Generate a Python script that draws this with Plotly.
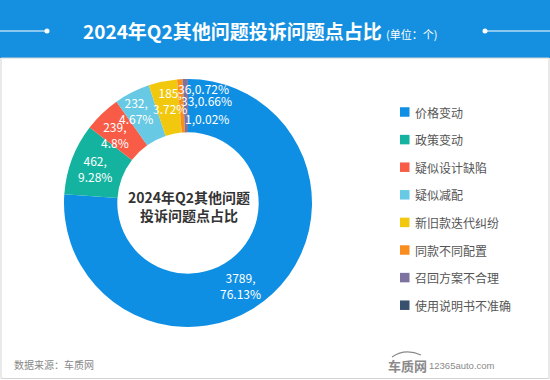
import math
import plotly.graph_objects as go

# ---- data ----
categories = ["价格变动", "政策变动", "疑似设计缺陷", "疑似减配",
              "新旧款迭代纠纷", "同款不同配置", "召回方案不合理", "使用说明书不准确"]
values = [3789, 462, 239, 232, 185, 36, 33, 1]
pct_labels = ["76.13%", "9.28%", "4.8%", "4.67%", "3.72%", "0.72%", "0.66%", "0.02%"]
colors = ["#0f8fe3", "#14b3a0", "#f85c47", "#67c9e3",
          "#f2c80f", "#fa8d1f", "#7d72a0", "#36506e"]

title_text = "2024年Q2其他问题投诉问题点占比"
unit_text = "(单位：个)"
center_text = ["2024年Q2其他问题", "投诉问题点占比"]
source_text = "数据来源：车质网"

W, H = 550, 380
FONT = "Noto Sans CJK SC"


def px(x):
    return x / W


def py(y):
    return 1 - y / H


# donut geometry (pixels)
CX, CY, R = 188, 203, 124
HOLE = 0.57

fig = go.Figure()
fig.add_trace(go.Pie(
    labels=categories, values=values, textinfo="none",
    sort=False, direction="clockwise", rotation=0, hole=HOLE,
    marker=dict(colors=colors, line=dict(width=0)),
    domain=dict(x=[px(CX - R), px(CX + R)], y=[py(CY + R), py(CY - R)]),
    showlegend=False, hoverinfo="label+value+percent",
))

shapes = []
annotations = []

# header band
shapes.append(dict(type="rect", xref="paper", yref="paper", x0=0, x1=1,
                   y0=py(58), y1=1, fillcolor="#1590e0", line=dict(width=0), layer="below"))
# frame
shapes.append(dict(type="rect", xref="paper", yref="paper", x0=px(1), x1=px(549),
                   y0=py(378.5), y1=py(58), line=dict(color="#d4d4d4", width=1)))
# header decorative lines
for x0, x1, xd in [(0, 47, 47), (485, 550, 485)]:
    shapes.append(dict(type="line", xref="paper", yref="paper", x0=px(x0), x1=px(x1),
                       y0=py(31), y1=py(31), line=dict(color="white", width=1.2)))
    shapes.append(dict(type="circle", xref="paper", yref="paper",
                       x0=px(xd - 2.5), x1=px(xd + 2.5), y0=py(33.5), y1=py(28.5),
                       fillcolor="white", line=dict(width=0)))

annotations.append(dict(
    xref="paper", yref="paper", x=px(260), y=py(30), xanchor="center", yanchor="middle",
    showarrow=False,
    text=f"<b>{title_text}</b> <span style='font-size:11px'>{unit_text}</span>",
    font=dict(family=FONT, size=19, color="white")))

# center text
annotations.append(dict(
    xref="paper", yref="paper", x=px(CX + 1), y=py(206), xanchor="center", yanchor="middle",
    showarrow=False, text="<b>" + "<br>".join(center_text) + "</b>",
    font=dict(family=FONT, size=14, color="#333333")))

# slice labels, anchored at each slice's mid angle on the middle of the ring
total = sum(values)
# pixel offsets (dx right, dy down) that nudge labels apart like the original
label_offsets = [(-14, 11), (-2, 0), (-6, 2), (-8, -6), (2, -7),
                 (21.5, -17.5), (21, -5.5), (19, 12.5)]
cum = 0
r_mid = (R + R * HOLE) / 2
for i, v in enumerate(values):
    mid = (cum + v / 2) / total * 2 * math.pi
    cum += v
    lx = CX + r_mid * math.sin(mid)
    ly = CY - r_mid * math.cos(mid)
    dx, dy = label_offsets[i]
    frac = v / total
    txt = f"{v},<br>{pct_labels[i]}" if frac >= 0.01 else f"{v},{pct_labels[i]}"
    annotations.append(dict(
        xref="paper", yref="paper", x=px(lx + dx), y=py(ly + dy),
        xanchor="center", yanchor="middle", showarrow=False, text=txt,
        font=dict(family=FONT, size=12, color="white")))

# legend (manual)
LX, LY0, LDY = 400, 112, 27.6
for i, (c, col) in enumerate(zip(categories, colors)):
    y = LY0 + i * LDY
    shapes.append(dict(type="rect", xref="paper", yref="paper",
                       x0=px(LX), x1=px(LX + 9.5), y0=py(y + 4.75), y1=py(y - 4.75),
                       fillcolor=col, line=dict(width=0)))
    annotations.append(dict(
        xref="paper", yref="paper", x=px(LX + 13), y=py(y), xanchor="left", yanchor="middle",
        showarrow=False, text=c, font=dict(family=FONT, size=12, color="#555555")))

# footer
annotations.append(dict(
    xref="paper", yref="paper", x=px(12), y=py(364), xanchor="left", yanchor="middle",
    showarrow=False, text=source_text, font=dict(family=FONT, size=10, color="#888888")))
annotations.append(dict(
    xref="paper", yref="paper", x=px(386), y=py(365), xanchor="left", yanchor="middle",
    showarrow=False, text="<b>车质网</b>", font=dict(family=FONT, size=13, color="#8a8a8a")))
annotations.append(dict(
    xref="paper", yref="paper", x=px(427), y=py(365), xanchor="left", yanchor="middle",
    showarrow=False, text="12365auto.com", font=dict(family="Liberation Sans", size=9.5, color="#8a8a8a")))
shapes.append(dict(type="path", xref="paper", yref="paper",
                   path=f"M {px(392)},{py(357)} Q {px(405)},{py(348)} {px(421)},{py(355)}",
                   line=dict(color="#8a8a8a", width=1.2)))

fig.update_layout(
    width=W, height=H, margin=dict(l=0, r=0, t=0, b=0),
    paper_bgcolor="white", plot_bgcolor="white",
    shapes=shapes, annotations=annotations,
)
fig.write_html("out.html", config={"displayModeBar": False},
               post_script="document.body.style.margin='0';")
